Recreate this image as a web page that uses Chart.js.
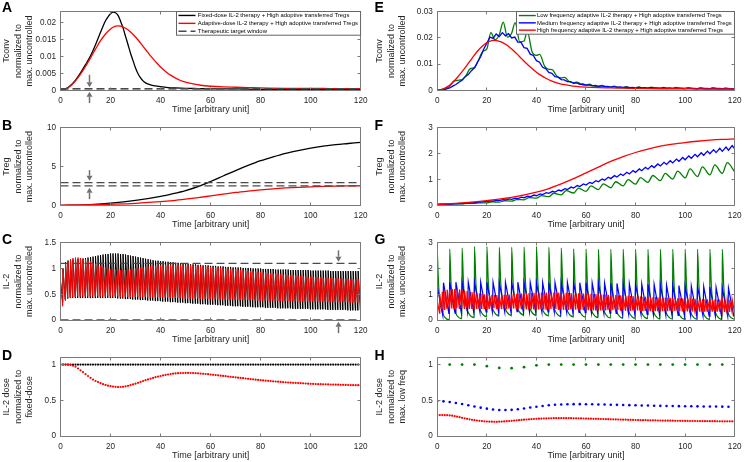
<!DOCTYPE html>
<html>
<head>
<meta charset="utf-8">
<script src="https://cdn.jsdelivr.net/npm/chart.js@4.4.1/dist/chart.umd.min.js"></script>
<style>
html, body { margin:0; padding:0; background:#fff; }
#fig { position:relative; width:747px; height:462px; overflow:hidden; background:#fff; }
#fig canvas { position:absolute; }
.plabel { position:absolute; font-family:'Liberation Sans', Arial, sans-serif; font-weight:bold; font-size:14px; line-height:14px; color:#000; }
</style>
</head>
<body>
<div id="fig"></div>
<script>
// ======================= DATA =======================
const xTicks = [0, 20, 40, 60, 80, 100, 120];
const aYTicks = [0, 0.005, 0.01, 0.015, 0.02];
const bYTicks = [0, 5, 10];
const cYTicks = [0, 0.5, 1, 1.5];
const dYTicks = [0, 0.5, 1];
const eYTicks = [0, 0.01, 0.02, 0.03];
const fYTicks = [0, 1, 2, 3];
const gYTicks = [0, 1, 2, 3];
const hYTicks = [0, 0.5, 1];

// Tconv, fixed-dose (A, black)
const tTconvFixed = [0,2,4,6,8,10,12,14,16,17,18,19,20,21,22,23,24,25,26,27,28,29,30,31,32,33,34,36,38,40,43,46,50,55,60,70,80,90,100,110,120];
const vTconvFixed = [0,0.0004,0.0014,0.003,0.0052,0.0076,0.0102,0.0135,0.0172,0.019,0.0206,0.0218,0.0227,0.0232,0.023,0.0222,0.0205,0.0185,0.016,0.0135,0.011,0.0088,0.0066,0.0049,0.0037,0.0028,0.0022,0.0016,0.0013,0.0011,0.0008,0.0007,0.0006,0.0005,0.0004,0.0004,0.0003,0.0003,0.0003,0.0003,0.0003];

// Tconv, adaptive / high-frequency adaptive (A and E, red)
const tTconvAdaptive = [0,2,4,6,8,10,12,14,16,18,20,22,23,24,26,28,30,32,34,36,38,40,42,44,46,48,50,53,56,60,65,70,75,80,90,100,110,120];
const vTconvAdaptive = [0,0.0004,0.0013,0.0028,0.0048,0.0071,0.0096,0.0122,0.0147,0.0167,0.0182,0.019,0.0191,0.019,0.0184,0.0173,0.0158,0.014,0.0121,0.0102,0.0085,0.0069,0.0056,0.0045,0.0036,0.0029,0.0024,0.0019,0.0015,0.0012,0.001,0.0009,0.0008,0.0007,0.0006,0.0006,0.0005,0.0005];

// Therapeutic windows
const aWindow = [0.00048, 0.00002];
const bWindow = [2.96, 2.54];
const cWindow = [1.10, 0.004];

// Arrows (time, from, to) in data units
const aArrows = [{x:11.4, from:0.0046, to:0.0009}, {x:11.4, from:-0.0038, to:-0.0004}];
const bArrows = [{x:11.4, from:4.55, to:3.2}, {x:11.4, from:0.85, to:2.3}];
const cArrows = [{x:111, from:1.35, to:1.13}, {x:111, from:-0.25, to:-0.03}];

// Treg, fixed-dose (B, black)
const tTregFixed = [0,10,20,30,40,45,50,55,60,65,70,75,80,85,90,95,100,105,110,115,120];
const vTregFixed = [0.05,0.12,0.33,0.68,1.2,1.55,1.95,2.45,3.1,3.8,4.5,5.15,5.75,6.25,6.7,7.05,7.35,7.6,7.8,7.95,8.1];

// Treg, adaptive / high-frequency (B and F, red)
const tTregAdaptive = [0,10,20,30,40,45,50,55,60,65,70,75,80,85,90,95,100,105,110,115,120];
const vTregAdaptive = [0.05,0.11,0.2,0.32,0.52,0.66,0.84,1.04,1.26,1.48,1.7,1.88,2.04,2.17,2.28,2.36,2.42,2.47,2.51,2.54,2.56];

// IL-2, fixed-dose (C, black): value right after each dose (period 1) and just before the next
const il2FixedPeaks = [
 0.75,1.00,1.12,1.15,1.16,1.17,1.18,1.18,1.19,1.19,
 1.20,1.21,1.22,1.23,1.24,1.25,1.26,1.27,1.28,1.28,
 1.29,1.29,1.29,1.29,1.28,1.28,1.27,1.26,1.25,1.24,
 1.23,1.22,1.21,1.20,1.19,1.18,1.17,1.16,1.15,1.15,
 1.14,1.14,1.13,1.13,1.12,1.12,1.11,1.11,1.10,1.10,
 1.09,1.09,1.08,1.08,1.08,1.07,1.07,1.06,1.06,1.06,
 1.05,1.05,1.05,1.04,1.04,1.04,1.03,1.03,1.03,1.02,
 1.02,1.02,1.02,1.01,1.01,1.01,1.01,1.00,1.00,1.00,
 1.00,0.99,0.99,0.99,0.99,0.99,0.98,0.98,0.98,0.98,
 0.98,0.98,0.97,0.97,0.97,0.97,0.97,0.97,0.97,0.97,
 0.96,0.96,0.96,0.96,0.96,0.96,0.96,0.96,0.95,0.95,
 0.95,0.95,0.95,0.95,0.95,0.95,0.95,0.95,0.95,0.95];
const il2FixedTroughs = [
 0.35,0.40,0.42,0.43,0.43,0.43,0.43,0.43,0.43,0.43,
 0.43,0.43,0.43,0.43,0.43,0.43,0.43,0.43,0.43,0.43,
 0.43,0.43,0.42,0.42,0.42,0.41,0.41,0.41,0.40,0.40,
 0.40,0.39,0.39,0.39,0.38,0.38,0.38,0.37,0.37,0.37,
 0.36,0.36,0.36,0.35,0.35,0.35,0.34,0.34,0.34,0.33,
 0.33,0.33,0.32,0.32,0.32,0.31,0.31,0.31,0.30,0.30,
 0.30,0.30,0.29,0.29,0.29,0.28,0.28,0.28,0.27,0.27,
 0.27,0.27,0.26,0.26,0.26,0.26,0.25,0.25,0.25,0.25,
 0.25,0.24,0.24,0.24,0.24,0.24,0.23,0.23,0.23,0.23,
 0.23,0.23,0.22,0.22,0.22,0.22,0.22,0.22,0.22,0.21,
 0.21,0.21,0.21,0.21,0.21,0.21,0.20,0.20,0.20,0.20,
 0.20,0.20,0.20,0.20,0.19,0.19,0.19,0.19,0.19,0.19];

// IL-2, adaptive / high-frequency (C and G, red), period 1
const il2AdaptivePeaks = [
 0.75,1.00,1.10,1.15,1.18,1.20,1.21,1.21,1.20,1.19,
 1.17,1.15,1.13,1.11,1.09,1.07,1.05,1.03,1.02,1.00,
 0.99,0.98,0.98,0.97,0.97,0.97,0.97,0.98,0.98,0.99,
 1.00,1.01,1.02,1.02,1.03,1.04,1.04,1.05,1.05,1.06,
 1.06,1.06,1.07,1.07,1.07,1.07,1.07,1.07,1.07,1.07,
 1.06,1.06,1.06,1.05,1.05,1.05,1.04,1.04,1.04,1.03,
 1.03,1.02,1.02,1.01,1.01,1.00,1.00,0.99,0.99,0.98,
 0.98,0.97,0.97,0.96,0.96,0.95,0.95,0.94,0.94,0.93,
 0.93,0.92,0.92,0.91,0.91,0.90,0.90,0.89,0.89,0.88,
 0.88,0.87,0.87,0.87,0.86,0.86,0.85,0.85,0.85,0.84,
 0.84,0.84,0.83,0.83,0.83,0.82,0.82,0.82,0.81,0.81,
 0.81,0.81,0.80,0.80,0.80,0.80,0.79,0.79,0.79,0.79];
const il2AdaptiveTroughs = [
 0.27,0.38,0.42,0.44,0.45,0.45,0.46,0.46,0.46,0.46,
 0.46,0.46,0.46,0.46,0.46,0.46,0.46,0.46,0.46,0.46,
 0.46,0.46,0.46,0.45,0.45,0.45,0.45,0.45,0.45,0.45,
 0.45,0.45,0.45,0.45,0.44,0.44,0.44,0.44,0.44,0.44,
 0.44,0.44,0.44,0.43,0.43,0.43,0.43,0.43,0.42,0.42,
 0.42,0.42,0.42,0.42,0.42,0.41,0.41,0.41,0.41,0.41,
 0.41,0.41,0.40,0.40,0.40,0.40,0.40,0.40,0.40,0.39,
 0.39,0.39,0.39,0.39,0.39,0.39,0.39,0.38,0.38,0.38,
 0.38,0.38,0.38,0.38,0.38,0.37,0.37,0.37,0.37,0.37,
 0.37,0.37,0.37,0.37,0.36,0.36,0.36,0.36,0.36,0.36,
 0.36,0.36,0.36,0.36,0.35,0.35,0.35,0.35,0.35,0.35,
 0.35,0.35,0.35,0.35,0.35,0.34,0.34,0.34,0.34,0.34];

// IL-2 dose normalized to fixed dose (D), one dose per time unit, t = 0..120
const doseFixed = [
 1,1,1,1,1,1,1,1,1,1, 1,1,1,1,1,1,1,1,1,1, 1,1,1,1,1,1,1,1,1,1,
 1,1,1,1,1,1,1,1,1,1, 1,1,1,1,1,1,1,1,1,1, 1,1,1,1,1,1,1,1,1,1,
 1,1,1,1,1,1,1,1,1,1, 1,1,1,1,1,1,1,1,1,1, 1,1,1,1,1,1,1,1,1,1,
 1,1,1,1,1,1,1,1,1,1, 1,1,1,1,1,1,1,1,1,1, 1,1,1,1,1,1,1,1,1,1, 1];
const doseAdaptive = [
 1.000,1.000,1.000,1.000,0.995,0.985,0.970,0.945,0.920,0.895,
 0.865,0.840,0.815,0.790,0.770,0.755,0.740,0.725,0.715,0.705,
 0.698,0.692,0.688,0.685,0.686,0.689,0.695,0.703,0.712,0.722,
 0.733,0.745,0.757,0.769,0.781,0.792,0.803,0.813,0.823,0.832,
 0.840,0.848,0.855,0.861,0.867,0.872,0.876,0.879,0.881,0.882,
 0.883,0.883,0.882,0.881,0.879,0.877,0.874,0.871,0.868,0.865,
 0.861,0.857,0.853,0.849,0.845,0.841,0.837,0.833,0.829,0.825,
 0.821,0.817,0.813,0.809,0.805,0.801,0.797,0.793,0.789,0.785,
 0.781,0.778,0.775,0.772,0.769,0.766,0.763,0.760,0.757,0.754,
 0.751,0.749,0.747,0.745,0.743,0.741,0.739,0.737,0.735,0.733,
 0.731,0.729,0.727,0.726,0.725,0.724,0.723,0.722,0.721,0.720,
 0.719,0.718,0.717,0.716,0.715,0.714,0.713,0.712,0.711,0.711,
 0.710];

// Tconv, medium frequency (E, blue), sampled every 1.25
const tconvMedium = [
 0,0.0001,0.0002,0.0005,0.0009,0.0016,0.0022,0.0031,
 0.0038,0.0052,0.0060,0.0075,0.0086,0.0108,0.0128,0.0158,
 0.0180,0.0203,0.0198,0.0215,0.0205,0.0220,0.0208,0.0216,
 0.0200,0.0203,0.0184,0.0184,0.0163,0.0160,0.0138,0.0133,
 0.0113,0.0107,0.0088,0.0083,0.0068,0.0065,0.0052,0.0050,
 0.0041,0.0040,0.0033,0.0033,0.0027,0.0028,0.0023,0.0024,
 0.0020,0.0021,0.0017,0.0019,0.0015,0.0017,0.0014,0.0015,
 0.0012,0.0014,0.0011,0.0013,0.0011,0.0012,0.0010,0.0011,
 0.0009,0.0011,0.0009,0.0010,0.0008,0.0010,0.0008,0.0009,
 0.0008,0.0009,0.0007,0.0009,0.0007,0.0008,0.0007,0.0008,
 0.0007,0.0008,0.0007,0.0007,0.0006,0.0007,0.0006,0.0007,
 0.0006,0.0007,0.0006,0.0007,0.0006,0.0006,0.0006,0.0006,
 0.0006];
const tconvMediumStep = 1.25;

// Tconv, low frequency (E, green)
const tTconvLow = [0,3,5,6.5,8.3,10,11.5,13.3,15,16.5,18.3,20,
 21.6,23.3,25, 26.6,28.3,30, 31.4,33.3,35, 36.3,38.3,40, 41.3,43.3,45,
 46.3,48.3,50, 51.3,53.3,55, 56.3,58.3,60, 61.3,63.3,65, 66.3,68.3,70,
 71.3,73.3,75, 76.3,78.3,80, 81.3,83.3,85, 86.3,88.3,90, 91.3,93.3,95,
 96.3,98.3,100, 101.3,103.3,105, 106.3,108.3,110, 111.3,113.3,115, 116.3,118.3,120];
const vTconvLow = [0,0.0006,0.0015,0.0034,0.0038,0.0041,0.0055,0.0083,0.0087,0.0112,0.0148,0.0158,
 0.0220,0.0193,0.0212, 0.0260,0.0203,0.0218, 0.0258,0.0185,0.0188, 0.0226,0.0145,0.0133, 0.0137,0.0092,0.0080,
 0.0079,0.0054,0.0047, 0.0049,0.0033,0.0029, 0.0031,0.0022,0.0020, 0.0023,0.0016,0.0015, 0.0019,0.0013,0.0012,
 0.0016,0.0011,0.0010, 0.0014,0.0009,0.0009, 0.0013,0.0008,0.0008, 0.0012,0.0008,0.0007, 0.0011,0.0007,0.0007,
 0.0011,0.0007,0.0006, 0.0010,0.0006,0.0006, 0.0010,0.0006,0.0006, 0.0010,0.0006,0.0006, 0.0009,0.0006,0.0006];

// Treg, medium frequency (F, blue): value at each dose (period 2.5) and 1.5 later
const tregMediumLows = [
 0.050,0.057,0.064,0.074,0.085,0.100,0.118,0.138,0.160,0.180,
 0.200,0.222,0.245,0.275,0.310,0.347,0.385,0.430,0.475,0.522,
 0.570,0.625,0.680,0.738,0.795,0.855,0.917,0.980,1.040,1.100,
 1.160,1.220,1.280,1.341,1.402,1.464,1.525,1.584,1.643,1.702,
 1.760,1.818,1.875,1.933,1.990,2.037,2.085,2.130,2.175];
const tregMediumHighs = [
 0.060,0.067,0.076,0.088,0.103,0.121,0.142,0.166,0.190,0.213,
 0.237,0.264,0.295,0.331,0.371,0.412,0.458,0.505,0.554,0.604,
 0.658,0.716,0.774,0.835,0.895,0.960,1.027,1.092,1.155,1.218,
 1.282,1.346,1.411,1.474,1.538,1.603,1.665,1.727,1.788,1.849,
 1.909,1.970,2.030,2.092,2.148,2.199,2.251,2.303];

// Treg, low frequency (F, green): value at each dose (period 5) and 2 later
const tregLowLows = [0.05,0.06,0.07,0.09,0.11,0.14,0.18,0.23,0.29,0.35,0.42,0.49,0.55,0.62,0.69,0.76,0.83,0.90,0.96,1.02,1.07,1.12,1.18,1.24,1.30];
const tregLowHighs = [0.06,0.075,0.09,0.115,0.15,0.19,0.24,0.31,0.39,0.48,0.58,0.68,0.76,0.84,0.92,1.00,1.08,1.16,1.24,1.33,1.41,1.49,1.57,1.65];

// IL-2, medium frequency (G, blue), period 2.5
const il2MediumPeaks = [
 1.30,1.45,1.47,1.47,1.47,1.47,1.47,1.47,1.47,1.47,
 1.47,1.47,1.47,1.47,1.47,1.46,1.46,1.46,1.46,1.46,
 1.46,1.46,1.45,1.45,1.45,1.44,1.44,1.43,1.43,1.42,
 1.42,1.41,1.40,1.40,1.39,1.38,1.37,1.36,1.35,1.34,
 1.33,1.32,1.31,1.30,1.28,1.27,1.25,1.24];
const il2MediumTroughs = [
 0.20,0.24,0.27,0.29,0.30,0.31,0.32,0.32,0.33,0.33,
 0.33,0.33,0.33,0.33,0.33,0.33,0.32,0.32,0.32,0.31,
 0.31,0.30,0.30,0.29,0.29,0.28,0.27,0.27,0.26,0.25,
 0.24,0.24,0.23,0.22,0.22,0.21,0.20,0.20,0.19,0.19,
 0.18,0.17,0.17,0.16,0.16,0.15,0.15,0.14];

// IL-2, low frequency (G, green), period 5: peak, then values 0.6, 1.5, 3 and 4.95 after the dose
const il2LowOffsets = [0, 0.6, 1.5, 3, 4.95];
const il2LowPeaks = [2.69,2.75,2.79,2.85,2.85,2.82,2.82,2.83,2.85,2.82,2.79,2.76,2.75,2.74,2.74,2.74,2.74,2.74,2.74,2.74,2.74,2.74,2.74,2.74];
const il2LowV1 = [1.25,1.30,1.35,1.40,1.45,1.45,1.45,1.45,1.45,1.42,1.40,1.38,1.36,1.35,1.34,1.33,1.32,1.31,1.30,1.30,1.30,1.30,1.30,1.30];
const il2LowV2 = [0.50,0.55,0.60,0.65,0.70,0.72,0.73,0.72,0.70,0.68,0.66,0.64,0.62,0.61,0.60,0.59,0.58,0.57,0.56,0.56,0.55,0.55,0.55,0.55];
const il2LowV3 = [0.12,0.17,0.22,0.27,0.31,0.33,0.34,0.33,0.31,0.29,0.27,0.25,0.23,0.22,0.21,0.20,0.19,0.18,0.17,0.16,0.16,0.15,0.15,0.15];
const il2LowTroughs = [0.02,0.06,0.10,0.14,0.17,0.19,0.20,0.19,0.17,0.15,0.13,0.12,0.10,0.09,0.08,0.07,0.06,0.05,0.05,0.04,0.04,0.03,0.03,0.03];

// IL-2 dose normalized to max. low freq (H)
const doseLowTimes = [5,10,15,20,25,30,35,40,45,50,55,60,65,70,75,80,85,90,95,100,105,110,115];
const doseLow = [1,1,1,0.977,0.953,0.949,0.963,0.99,1,1,1,1,1,1,1,1,1,1,1,1,1,1,1];
const doseMedium = [
 0.490,0.485,0.475,0.462,0.447,0.430,0.413,0.397,0.383,0.372,
 0.365,0.363,0.366,0.374,0.385,0.398,0.410,0.420,0.430,0.437,
 0.442,0.445,0.446,0.446,0.445,0.444,0.442,0.440,0.438,0.436,
 0.434,0.432,0.430,0.428,0.426,0.424,0.422,0.420,0.419,0.418,
 0.417,0.416,0.415,0.414,0.413,0.412,0.411,0.410];
const doseHigh = [
 0.293,0.293,0.293,0.292,0.291,0.288,0.284,0.278,0.271,0.263,
 0.255,0.247,0.240,0.233,0.227,0.222,0.217,0.213,0.209,0.206,
 0.203,0.201,0.200,0.199,0.199,0.200,0.202,0.204,0.207,0.210,
 0.213,0.216,0.219,0.222,0.225,0.228,0.231,0.234,0.236,0.238,
 0.240,0.242,0.244,0.245,0.246,0.247,0.248,0.249,0.249,0.250,
 0.250,0.250,0.250,0.249,0.249,0.248,0.248,0.247,0.246,0.245,
 0.244,0.243,0.242,0.241,0.240,0.239,0.238,0.237,0.236,0.235,
 0.234,0.233,0.232,0.231,0.230,0.229,0.228,0.227,0.226,0.225,
 0.224,0.223,0.222,0.222,0.221,0.220,0.219,0.219,0.218,0.217,
 0.217,0.216,0.215,0.215,0.214,0.214,0.213,0.213,0.212,0.212,
 0.211,0.211,0.210,0.210,0.210,0.209,0.209,0.208,0.208,0.208,
 0.207,0.207,0.207,0.206,0.206,0.206,0.205,0.205,0.205,0.205,
 0.204];

// ======================= LAYOUT / STYLE =======================
const FONT = "'Liberation Sans', Arial, Helvetica, sans-serif";
const TXT = '#262626';
const COLS = [
  {x: 0,   w: 373, plotL: 60.5,  plotR: 361.5, letterX: 2},
  {x: 373, w: 374, plotL: 437.3, plotR: 739.7, letterX: 374.5}
];
const ROWS = [
  {top: 11.7,  bottom: 90.3,  letterY: 0},
  {top: 127.0, bottom: 205.8, letterY: 117.5},
  {top: 242.6, bottom: 320.2, letterY: 231.8},
  {top: 357.3, bottom: 436.0, letterY: 348.2}
];
const X_TITLE_OFFSET = 19.2;
const RED = '#ff0000', BLACK = '#000000', GREEN = '#007f00', BLUE = '#0000ff', WIN = '#4a4a4a';

Chart.defaults.font.family = FONT;
Chart.defaults.color = TXT;

// ---------- helpers building Chart.js data from the arrays ----------
const xy = (ts, vs) => ts.map((t, i) => ({x: t, y: vs[i]}));
const stepped = (step, vs) => vs.map((v, i) => ({x: i * step, y: v}));
const hline = v => [{x: xTicks[0], y: v}, {x: xTicks[xTicks.length - 1], y: v}];
function pulseTrain(period, peaks, troughs) {
  const out = [];
  peaks.forEach((p, k) => {
    out.push({x: k * period, y: p});
    out.push({x: (k + 0.88) * period, y: troughs[k]});
  });
  return out;
}
function pulseTrainShaped(period, offsets, cols) {
  const out = [];
  cols[0].forEach((_, k) => offsets.forEach((o, j) => out.push({x: k * period + o, y: cols[j][k]})));
  return out;
}
function riseFall(period, lows, highs, peakOffset) {
  const out = [];
  lows.forEach((lo, k) => {
    out.push({x: k * period, y: lo});
    if (k < highs.length) out.push({x: k * period + peakOffset, y: highs[k]});
  });
  return out;
}
const line = (label, data, color, width, order, extra) => Object.assign({
  label, data, borderColor: color, backgroundColor: color, borderWidth: width,
  pointRadius: 0, fill: false, order
}, extra || {});
const dots = (data, color, r, order) => ({
  data, showLine: false, pointRadius: r, pointHoverRadius: r, pointBackgroundColor: color,
  pointBorderWidth: 0, borderColor: color, backgroundColor: color, order
});
const smooth = {cubicInterpolationMode: 'monotone'};

// ---------- plugins ----------
const axesBox = {
  id: 'axesBox',
  afterDatasetsDraw(chart, args, o) {
    const {ctx, chartArea: ca} = chart;
    const xs = chart.scales.x, ys = chart.scales.y;
    const L = Math.floor(ca.left) + 0.5, R = Math.floor(ca.right) + 0.5;
    const T = Math.floor(ca.top) + 0.5, B = Math.floor(ca.bottom) + 0.5;
    ctx.save();
    ctx.strokeStyle = o.color; ctx.lineWidth = 1;
    ctx.beginPath();
    ctx.rect(L, T, R - L, B - T);
    xs.ticks.forEach(t => {
      const p = Math.floor(xs.getPixelForValue(t.value)) + 0.5;
      ctx.moveTo(p, B); ctx.lineTo(p, B - o.len);
      ctx.moveTo(p, T); ctx.lineTo(p, T + o.len);
    });
    ys.ticks.forEach(t => {
      const p = Math.floor(ys.getPixelForValue(t.value)) + 0.5;
      ctx.moveTo(L, p); ctx.lineTo(L + o.len, p);
      ctx.moveTo(R, p); ctx.lineTo(R - o.len, p);
    });
    ctx.stroke();
    ctx.restore();
  }
};
const arrowMarks = {
  id: 'arrowMarks',
  afterDraw(chart, args, o) {
    if (!o.items || !o.items.length) return;
    const ctx = chart.ctx, xs = chart.scales.x, ys = chart.scales.y;
    ctx.save();
    ctx.strokeStyle = o.color; ctx.fillStyle = o.color; ctx.lineWidth = o.width;
    o.items.forEach(a => {
      const x = Math.round(xs.getPixelForValue(a.x)) + 0.5;
      const y1 = ys.getPixelForValue(a.from), y2 = ys.getPixelForValue(a.to);
      const dir = Math.sign(y2 - y1);
      const yb = y2 - dir * o.head;
      ctx.beginPath(); ctx.moveTo(x, y1); ctx.lineTo(x, yb); ctx.stroke();
      ctx.beginPath(); ctx.moveTo(x - o.half, yb); ctx.lineTo(x + o.half, yb); ctx.lineTo(x, y2); ctx.closePath(); ctx.fill();
    });
    ctx.restore();
  }
};
const legendBox = {
  id: 'legendBox',
  afterDraw(chart, args, o) {
    if (!o.show) return;
    const ctx = chart.ctx, ca = chart.chartArea;
    const items = chart.data.datasets.filter(d => d.label);
    ctx.save();
    ctx.font = o.fontSize + 'px ' + FONT;
    const tw = Math.max(...items.map(d => ctx.measureText(d.label).width));
    const w = o.padL + o.sample + o.gap + tw + o.padR;
    const h = o.padT + items.length * o.rowH + o.padB;
    const x = Math.floor(ca.right - w) + 0.5, y = Math.floor(ca.top) + 0.5;
    ctx.fillStyle = '#fff'; ctx.fillRect(x, y, w, h);
    ctx.strokeStyle = o.border; ctx.lineWidth = 1; ctx.strokeRect(x, y, w, h);
    items.forEach((d, i) => {
      const cy = y + o.padT + o.rowH * (i + 0.5);
      ctx.beginPath();
      ctx.setLineDash(d.borderDash || []);
      ctx.strokeStyle = d.borderColor; ctx.lineWidth = o.sampleWidth;
      ctx.moveTo(x + o.padL, cy); ctx.lineTo(x + o.padL + o.sample, cy); ctx.stroke();
      ctx.setLineDash([]);
      ctx.fillStyle = '#000'; ctx.textBaseline = 'middle'; ctx.textAlign = 'left';
      ctx.fillText(d.label, x + o.padL + o.sample + o.gap, cy + 0.3);
    });
    ctx.restore();
  }
};

// ---------- panels ----------
const legendA = {show: true, fontSize: 5.9, padL: 2, sample: 17, gap: 2.3, padR: 2.7, rowH: 7.9, padT: 0, padB: 0, sampleWidth: 1.4, border: '#666'};
const legendE = {show: true, fontSize: 5.9, padL: 2.3, sample: 17, gap: 1.2, padR: 2.7, rowH: 7.3, padT: 0.4, padB: 0.4, sampleWidth: 1.4, border: '#666'};
const yTitleUnc = n => [n, 'normalized to', 'max. uncontrolled'];
const winStyle = {borderDash: [8, 4]};

const panels = [
  {letter: 'A', col: 0, row: 0, yMax: 0.0233, yTicks: aYTicks, yTitle: yTitleUnc('Tconv'), legend: legendA, arrows: aArrows,
   datasets: [
     line('Fixed-dose IL-2 therapy + High adoptive transferred Tregs', xy(tTconvFixed, vTconvFixed), BLACK, 1.3, 2, smooth),
     line('Adaptive-dose IL-2 therapy + High adoptive transferred Tregs', xy(tTconvAdaptive, vTconvAdaptive), RED, 1.3, 1, smooth),
     line('Therapeutic target window', hline(aWindow[0]), WIN, 1.3, 0, winStyle),
     line(undefined, hline(aWindow[1]), WIN, 1.3, 0, winStyle)
   ]},
  {letter: 'B', col: 0, row: 1, yMax: 10, yTicks: bYTicks, yTitle: yTitleUnc('Treg'), arrows: bArrows,
   datasets: [
     line(undefined, xy(tTregFixed, vTregFixed), BLACK, 1.3, 2, smooth),
     line(undefined, xy(tTregAdaptive, vTregAdaptive), RED, 1.3, 1, smooth),
     line(undefined, hline(bWindow[0]), WIN, 1.3, 0, winStyle),
     line(undefined, hline(bWindow[1]), WIN, 1.3, 0, winStyle)
   ]},
  {letter: 'C', col: 0, row: 2, yMax: 1.5, yTicks: cYTicks, yTitle: yTitleUnc('IL-2'), arrows: cArrows,
   datasets: [
     line(undefined, pulseTrain(1, il2FixedPeaks, il2FixedTroughs), BLACK, 1, 2),
     line(undefined, pulseTrain(1, il2AdaptivePeaks, il2AdaptiveTroughs), RED, 1, 1),
     line(undefined, hline(cWindow[0]), WIN, 1.3, 0, winStyle),
     line(undefined, hline(cWindow[1]), WIN, 1.3, 0, winStyle)
   ]},
  {letter: 'D', col: 0, row: 3, yMax: 1.1, yTicks: dYTicks, yTitle: ['IL-2 dose', 'normalized to', 'fixed-dose'],
   datasets: [
     dots(stepped(1, doseFixed), BLACK, 1.1, 2),
     dots(stepped(1, doseAdaptive), RED, 1.1, 1)
   ]},
  {letter: 'E', col: 1, row: 0, yMax: 0.03, yTicks: eYTicks, yTitle: yTitleUnc('Tconv'), legend: legendE,
   datasets: [
     line('Low frequency adaptive IL-2 therapy + High adoptive transferred Tregs', xy(tTconvLow, vTconvLow), GREEN, 1.3, 3, smooth),
     line('Medium frequency adaptive IL-2 therapy + High adoptive transferred Tregs', stepped(tconvMediumStep, tconvMedium), BLUE, 1.3, 2),
     line('High frequency adaptive IL-2 therapy + High adoptive transferred Tregs', xy(tTconvAdaptive, vTconvAdaptive), RED, 1.3, 1, smooth)
   ]},
  {letter: 'F', col: 1, row: 1, yMax: 3, yTicks: fYTicks, yTitle: yTitleUnc('Treg'),
   datasets: [
     line(undefined, riseFall(5, tregLowLows, tregLowHighs, 2), GREEN, 1.3, 3, smooth),
     line(undefined, riseFall(2.5, tregMediumLows, tregMediumHighs, 1.5), BLUE, 1.3, 2),
     line(undefined, xy(tTregAdaptive, vTregAdaptive), RED, 1.3, 1, smooth)
   ]},
  {letter: 'G', col: 1, row: 2, yMax: 3, yTicks: gYTicks, yTitle: yTitleUnc('IL-2'),
   datasets: [
     line(undefined, pulseTrainShaped(5, il2LowOffsets, [il2LowPeaks, il2LowV1, il2LowV2, il2LowV3, il2LowTroughs]), GREEN, 1.2, 3, smooth),
     line(undefined, pulseTrain(2.5, il2MediumPeaks, il2MediumTroughs), BLUE, 1.2, 2),
     line(undefined, pulseTrain(1, il2AdaptivePeaks, il2AdaptiveTroughs), RED, 1.2, 1)
   ]},
  {letter: 'H', col: 1, row: 3, yMax: 1.1, yTicks: hYTicks, yTitle: ['IL-2 dose', 'normalized to', 'max. low freq'],
   datasets: [
     dots(xy(doseLowTimes, doseLow), GREEN, 1.4, 3),
     dots(stepped(2.5, doseMedium), BLUE, 1.3, 2),
     dots(stepped(1, doseHigh), RED, 1.1, 1)
   ]}
];

const fig = document.getElementById('fig');

function makePanel(p) {
  const col = COLS[p.col], row = ROWS[p.row];
  const cx = col.x, cw = col.w;
  const cy = Math.floor(row.top - 9);
  const ch = Math.min(462 - cy, Math.ceil(row.bottom + 26 - cy));
  const plotL = col.plotL - cx, plotR = col.plotR - cx;
  const plotT = row.top - cy, plotB = row.bottom - cy;
  const xTitleLH = 9 * 1.2;
  const xTitlePadBottom = Math.max(0, (ch - plotB) - X_TITLE_OFFSET - xTitleLH / 2);

  const canvas = document.createElement('canvas');
  canvas.width = cw; canvas.height = ch;
  canvas.style.left = cx + 'px'; canvas.style.top = cy + 'px';
  canvas.style.width = cw + 'px'; canvas.style.height = ch + 'px';
  fig.appendChild(canvas);

  const lbl = document.createElement('div');
  lbl.className = 'plabel';
  lbl.textContent = p.letter;
  lbl.style.left = col.letterX + 'px';
  lbl.style.top = row.letterY + 'px';
  fig.appendChild(lbl);

  new Chart(canvas, {
    type: 'line',
    data: {datasets: p.datasets},
    options: {
      responsive: false, maintainAspectRatio: false, animation: false, devicePixelRatio: 1,
      events: [],
      layout: {padding: {left: 0, top: plotT, right: cw - plotR, bottom: 0}},
      plugins: {
        legend: {display: false}, tooltip: {enabled: false},
        axesBox: {color: '#7a7a7a', len: 3},
        arrowMarks: {items: p.arrows || [], color: '#707070', width: 1.5, head: 5, half: 3},
        legendBox: p.legend || {show: false}
      },
      scales: {
        x: {
          type: 'linear', min: xTicks[0], max: xTicks[xTicks.length - 1],
          afterBuildTicks: s => { s.ticks = xTicks.map(v => ({value: v})); },
          afterFit: s => { s.height = ch - plotB; },
          grid: {display: false, drawTicks: false}, border: {display: false},
          ticks: {font: {size: 8.2}, color: TXT, padding: 5.5, maxRotation: 0, autoSkip: false, callback: v => String(v)},
          title: {display: true, text: 'Time [arbitrary unit]', color: TXT, font: {size: 9, lineHeight: 1.2}, padding: {top: 0, bottom: xTitlePadBottom}}
        },
        y: {
          type: 'linear', min: 0, max: p.yMax,
          afterBuildTicks: s => { s.ticks = p.yTicks.map(v => ({value: v})); },
          afterFit: s => { s.width = plotL; },
          grid: {display: false, drawTicks: false}, border: {display: false},
          ticks: {font: {size: 8.2}, color: TXT, padding: 4.5, callback: v => String(v)},
          title: {display: true, text: p.yTitle, color: TXT, font: {size: 9, lineHeight: 1.29}, padding: {top: 0.9, bottom: 0}}
        }
      }
    },
    plugins: [axesBox, arrowMarks, legendBox]
  });
}

panels.forEach(makePanel);
</script>
</body>
</html>
